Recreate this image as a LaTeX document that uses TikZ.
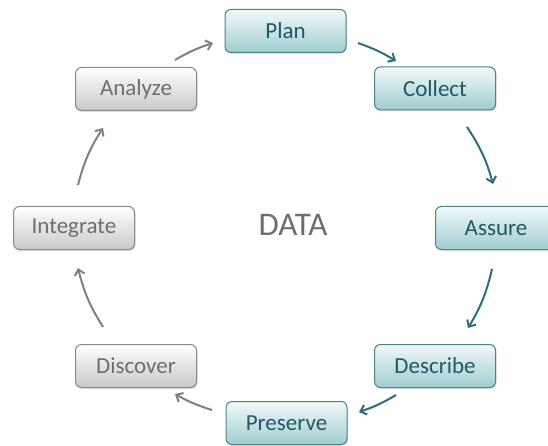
\documentclass[tikz,border=0pt]{standalone}
\usepackage{fontspec}
\setmainfont{Carlito}
\usetikzlibrary{arrows.meta,shadows}
\definecolor{tealtext}{HTML}{215868}
\definecolor{tealbord}{HTML}{4A858C}
\definecolor{tealbot}{HTML}{9FCDCF}
\definecolor{tealtop}{HTML}{F2F9F9}
\definecolor{tealarr}{HTML}{2C6E7C}
\definecolor{graytext}{HTML}{6E6E6E}
\definecolor{graybord}{HTML}{8A8A8A}
\definecolor{graybot}{HTML}{C9C9C9}
\definecolor{grayarr}{HTML}{808080}
\tikzset{
  x=1pt,y=1pt,
  basebox/.style={rounded corners=6pt, minimum width=121pt, minimum height=43pt,
    line width=1pt, font=\fontsize{23}{26}\selectfont, inner sep=0pt,
    drop shadow={shadow xshift=1pt, shadow yshift=-1.5pt, opacity=0.25}},
  tealbox/.style={basebox, draw=tealbord, top color=tealtop, bottom color=tealbot, text=tealtext},
  graybox/.style={basebox, draw=graybord, top color=white, bottom color=graybot, text=graytext},
  tarr/.style={draw=tealarr, line width=2pt, -{Straight Barb[length=5.5pt,width=10pt,line width=2pt]}},
  garr/.style={draw=grayarr, line width=2pt, -{Straight Barb[length=5.5pt,width=10pt,line width=2pt]}},
}
\begin{document}
\begin{tikzpicture}
\useasboundingbox (0,0) rectangle (548,-446);
\node[tealbox] (plan) at (285.5,-31) {Plan};
\node[tealbox] (collect) at (435,-88.5) {Collect};
\node[tealbox] (assure) at (496,-228) {Assure};
\node[tealbox] (describe) at (435,-366) {Describe};
\node[tealbox] (preserve) at (286.5,-423) {Preserve};
\node[graybox] (discover) at (136,-366) {Discover};
\node[graybox] (integrate) at (74,-228) {Integrate};
\node[graybox] (analyze) at (136,-89) {Analyze};
\node[text=graytext, font=\fontsize{33}{36}\selectfont] (data) at (293,-225) {DATA};
% arrow end points
\coordinate (a1s) at (358,-43);  \coordinate (a1e) at (396,-61);
\coordinate (a2s) at (467,-127); \coordinate (a2e) at (493,-184);
\coordinate (a3s) at (492,-269); \coordinate (a3e) at (468,-328);
\coordinate (a4s) at (396,-395); \coordinate (a4e) at (359,-412);
\coordinate (a5s) at (212,-410); \coordinate (a5e) at (175,-394);
\coordinate (a6s) at (103,-327); \coordinate (a6e) at (78,-268);
\coordinate (a7s) at (78,-185);  \coordinate (a7e) at (103,-128);
\coordinate (a8s) at (175,-60);  \coordinate (a8e) at (213,-43);
\draw[tarr] (a1s) to[bend left=6] (a1e);
\draw[tarr] (a2s) to[bend left=9] (a2e);
\draw[tarr] (a3s) to[bend left=9] (a3e);
\draw[tarr] (a4s) to[bend left=6] (a4e);
\draw[garr] (a5s) to[bend left=6] (a5e);
\draw[garr] (a6s) to[bend left=9] (a6e);
\draw[garr] (a7s) to[bend left=9] (a7e);
\draw[garr] (a8s) to[bend left=6] (a8e);
\end{tikzpicture}
\end{document}
